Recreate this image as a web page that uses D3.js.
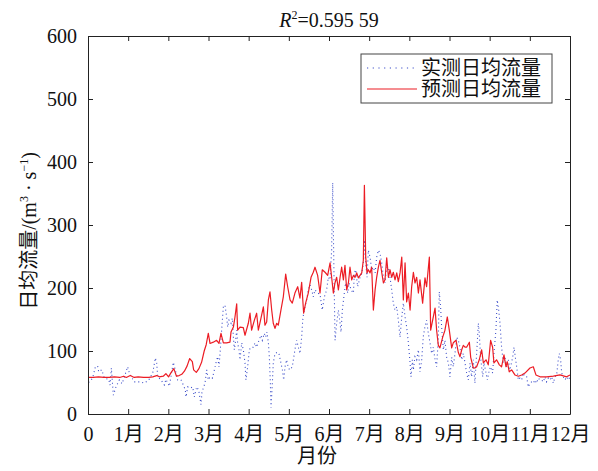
<!DOCTYPE html>
<html>
<head>
<meta charset="utf-8">
<script src="https://cdn.jsdelivr.net/npm/d3@7"></script>
<style>
  body { margin: 0; background: #fff; }
  svg text { font-family: "Liberation Serif", "Times New Roman", "Noto Sans CJK SC", serif; fill: #111; }
</style>
</head>
<body>
<script>
// month tick labels
const monthLabels = ["0", "1月", "2月", "3月", "4月", "5月", "6月", "7月", "8月", "9月", "10月", "11月", "12月"];
const yTicks = [0, 100, 200, 300, 400, 500, 600];

// measured daily flow (day of year, m3/s)
const measuredDay = [0.5,3.5,5.6,7.3,8.1,10.4,12.4,15.7,16.7,17.7,18.7,19.2,21.2,23.7,25.8,28.8,30,31.3,35,38.9,42.7,46,49,51,52,52.8,55.3,57.8,59,61.6,64.6,66.1,67.9,70.4,72.2,73.7,74.2,75.5,77.2,79.3,80.5,82.3,83.8,85.6,86.3,88.6,89.9,91.1,92.4,94.2,95.7,96.9,98.2,99.2,100.2,101.2,102.5,103.7,105,105.8,106.8,108.3,109.3,110.1,110.8,111.8,112.6,113.3,114.3,115.1,116.4,117.6,118.9,119.6,120.9,122.2,123.4,125.2,126.5,127.7,129,131,132,133.5,134.5,135.5,136.6,137.3,138.1,138.6,139.6,140.3,141.6,143.6,144.6,146.1,147.2,148.2,149.2,150.4,151.7,153,154.7,156.7,158,159.3,160.5,161.8,162.6,163.3,164.3,165.6,166.8,168.1,169.4,170.6,171.9,173.9,175.7,177.4,179,180.7,182,183.3,184.5,185.3,186.3,187.1,188.3,189.6,190.9,191.6,192.6,194.1,195.1,196.7,197.7,199.2,201,201.7,202.7,204.2,206,207.3,208.5,209.3,210.3,211.3,212.3,213.6,214.8,216.1,217.4,218.6,219.9,221.1,222.4,223.7,224.9,226.2,227.5,228.7,230,231.2,232.5,233.8,235,236.3,237.6,238.8,240.1,241.3,242.6,243.9,244.6,245.6,246.4,247.6,248.9,250.2,251.4,252.7,253.9,255.2,256.4,257.7,259,260.2,261.5,262.8,264,265.3,266,267,267.8,269.1,270.3,271.6,272.9,274.1,275.4,276.6,277.9,279.2,280.4,281.7,283,284.2,285.5,286.7,288,289.3,290.5,291.8,293,294.3,295.6,296.3,297.3,298.9,299.9,301.4,302.4,303.9,304.9,306.4,307.4,308.9,309.9,311,312,313.2,314.5,315.8,317,318.3,319.5,321.6,322.6,323.6,324.6,325.9,327.1,328.4,329.6,330.9,332.2,333.4,334.7,336,337.2,338.5,339.7,341,342.3,343.5,344.8,346,347.3,348.6,349.8,351.1,352.4,353.6,354.9,356.1,356.9,357.9,358.7,359.9,361.2,362.5,363.7,365];
const measuredFlow = [50,57,75,76,67,70,57,55,46,73,44,30,43,54,48,67,75,65,51,51,49,54,65,89,81,59,54,46,55,44,82,70,54,54,46,38,27,43,41,43,27,43,38,15,35,49,70,54,59,57,70,81,91,75,102,133,170,173,154,138,149,144,152,122,102,117,133,113,102,86,113,102,81,54,75,102,106,106,113,106,114,125,117,128,122,130,113,91,49,10,49,81,96,98,96,81,70,54,75,86,73,70,75,102,117,106,96,122,149,160,170,181,197,205,197,186,197,192,190,165,186,197,217,213,260,367,217,117,144,165,144,130,165,192,208,192,208,197,192,224,229,202,217,224,240,276,240,217,260,249,229,233,224,249,260,255,240,217,208,233,233,217,197,176,165,170,149,122,154,176,154,138,113,81,59,86,70,91,86,102,67,86,123,139,149,128,113,96,106,86,75,122,194,170,138,102,117,90,81,59,90,75,96,122,117,106,86,96,81,65,54,81,59,86,49,96,144,128,90,59,81,65,54,70,75,65,96,133,181,165,144,106,81,90,75,86,70,90,106,90,75,54,57,54,65,59,59,43,49,51,49,54,49,57,54,54,51,59,51,57,54,59,49,59,62,86,96,86,65,59,54,59,54,59];

// predicted daily flow
const predictedDay = [0,4,8,12,16,20,24,27,29,32,35,38,42,46,49,52,54,57,59,61,63,65,67,69,71,73,75,77,79,80,82,84,86,88,89.5,91.1,92.4,94.9,97.4,99.2,100.7,102.5,105,107.5,108.3,110.1,111.3,112.6,113.3,115.1,117.6,118.9,121.4,122.7,123.9,126,127.7,129,131,132.8,134,135.3,136.6,137.8,139.1,140.3,141.6,142.9,144.1,146.1,147.9,149.7,151.2,153,154.7,156.7,158.8,160.5,161.8,163.3,164.8,166.8,168.9,170.6,171.9,173.9,175.7,177.4,179.5,181.5,183.3,184.5,185.8,187,188.3,189.6,190.9,192.1,193.4,194.6,195.9,197.2,198.4,199.7,201,202.2,203.5,204.7,206,207.3,208.5,209.3,210.3,211.3,212.3,213.6,214.8,216.1,217.4,218.6,219.9,221.1,222.4,223.7,224.9,226.2,227.5,228.7,230,231.2,232.5,233.8,235,236.3,237.6,238.8,240.1,241.3,242.6,243.9,245.1,246.4,247.6,248.9,250.2,251.4,253.4,255.2,256.4,258.5,259.5,261,262.8,264,265.3,266.5,268.6,270.3,272.1,273.6,275.4,276.6,278.7,280.4,281.7,283,284.2,285.5,286.7,288.8,289.8,291.8,293,294.3,296.3,298.1,299.4,301.4,303.1,304.9,306.4,307.4,309.4,311.5,313.2,315,316.5,317.5,319,320.8,323.3,325.9,328.4,330.9,334.7,337.2,339.2,342.3,347.3,352.4,357.4,362.5,365];
const predictedFlow = [58,58,59,58,58,59,58,60,58,61,58,59,58,58,59,61,59,60,64,59,66,72,60,61,63,68,76,88,83,70,66,72,82,100,110,128,112,114,117,112,128,113,113,114,130,138,154,175,133,138,137,125,144,160,133,149,160,133,152,170,141,146,181,194,165,144,136,144,141,165,186,222,202,181,176,192,202,184,209,160,176,192,217,225,233,220,192,229,225,220,240,217,192,208,217,197,217,233,213,236,197,208,233,213,220,217,224,216,220,224,244,363,249,224,229,224,233,165,197,217,233,244,225,208,213,248,217,229,217,225,213,224,210,224,249,181,240,178,192,165,202,225,208,217,192,213,176,216,202,249,133,149,168,133,109,105,122,133,154,133,105,113,117,98,91,102,109,106,106,114,90,73,73,75,86,102,81,86,78,117,106,81,86,78,75,94,75,83,67,70,62,60,62,65,73,75,62,59,59,60,62,59,62];

const measured = measuredDay.map((d, i) => ({ day: d, flow: measuredFlow[i] }));
const predicted = predictedDay.map((d, i) => ({ day: d, flow: predictedFlow[i] }));

const W = 598, H = 471;
const plotL = 88, plotR = 570, plotT = 36, plotB = 414;

const svg = d3.select("body").append("svg")
    .attr("width", W)
    .attr("height", H);

svg.append("rect").attr("width", W).attr("height", H).attr("fill", "#fff");

const x = d3.scaleLinear().domain([0, 365]).range([plotL, plotR]);
const y = d3.scaleLinear().domain([0, 600]).range([plotB, plotT]);

const monthTicks = d3.range(13).map(k => k * 365 / 12);

// data lines
const line = d3.line()
    .x(d => x(d.day))
    .y(d => y(d.flow));

svg.append("path")
    .datum(measured)
    .attr("fill", "none")
    .attr("stroke", "#3a4cc8")
    .attr("stroke-width", 1.1)
    .attr("stroke-dasharray", "1,3")
    .attr("d", line);

svg.append("path")
    .datum(predicted)
    .attr("fill", "none")
    .attr("stroke", "#ec1c24")
    .attr("stroke-width", 1.2)
    .attr("stroke-linejoin", "round")
    .attr("d", line);

// axes, ticks pointing inward on all sides
const fontSize = 20;

svg.append("g")
    .attr("transform", "translate(0," + plotB + ")")
    .call(d3.axisBottom(x).tickValues(monthTicks).tickSizeInner(-5).tickSizeOuter(0)
        .tickPadding(13).tickFormat((d, i) => monthLabels[i]));

svg.append("g")
    .attr("transform", "translate(0," + plotT + ")")
    .call(d3.axisTop(x).tickValues(monthTicks).tickSizeInner(-5).tickSizeOuter(0).tickFormat(""));

svg.append("g")
    .attr("transform", "translate(" + plotL + ",0)")
    .call(d3.axisLeft(y).tickValues(yTicks).tickSizeInner(-5).tickSizeOuter(0).tickPadding(11));

svg.append("g")
    .attr("transform", "translate(" + plotR + ",0)")
    .call(d3.axisRight(y).tickValues(yTicks).tickSizeInner(-5).tickSizeOuter(0).tickFormat(""));

svg.selectAll(".domain").attr("stroke", "#222").attr("stroke-width", 1);
svg.selectAll(".tick line").attr("stroke", "#222");
svg.selectAll(".tick text")
    .attr("font-size", fontSize)
    .attr("font-family", "Liberation Serif, Noto Sans CJK SC, serif")
    .attr("fill", "#111");

// title
const title = svg.append("text")
    .attr("x", (plotL + plotR) / 2)
    .attr("y", 27)
    .attr("text-anchor", "middle")
    .attr("font-size", fontSize);
title.append("tspan").attr("font-style", "italic").text("R");
title.append("tspan").attr("font-size", 12).attr("dy", -8).text("2");
title.append("tspan").attr("dy", 8).text("=0.595 59");

// axis labels
svg.append("text")
    .attr("x", 317)
    .attr("y", 463)
    .attr("text-anchor", "middle")
    .attr("font-size", fontSize)
    .text("月份");

const yl = svg.append("text")
    .attr("transform", "translate(36,231) rotate(-90)")
    .attr("text-anchor", "middle")
    .attr("font-size", 20);
yl.append("tspan").text("日均流量/(m");
yl.append("tspan").attr("font-size", 12).attr("dy", -8).text("3");
yl.append("tspan").attr("dy", 8).text(" · s");
yl.append("tspan").attr("font-size", 12).attr("dy", -8).text("−1");
yl.append("tspan").attr("dy", 8).text(")");

// legend
const lg = svg.append("g");
lg.append("rect")
    .attr("x", 361).attr("y", 54)
    .attr("width", 191).attr("height", 49)
    .attr("fill", "#fff")
    .attr("stroke", "#444")
    .attr("stroke-width", 1);

const legendItems = [
    { name: "实测日均流量", color: "#3a4cc8", dash: "1.2,4.5", ly: 68 },
    { name: "预测日均流量", color: "#ec1c24", dash: null, ly: 89 }
];
legendItems.forEach(it => {
    lg.append("line")
        .attr("x1", 367).attr("x2", 417)
        .attr("y1", it.ly).attr("y2", it.ly)
        .attr("stroke", it.color)
        .attr("stroke-width", 1.2)
        .attr("stroke-dasharray", it.dash);
    lg.append("text")
        .attr("x", 421)
        .attr("y", it.ly + 7)
        .attr("font-size", fontSize)
        .text(it.name);
});
</script>
</body>
</html>
